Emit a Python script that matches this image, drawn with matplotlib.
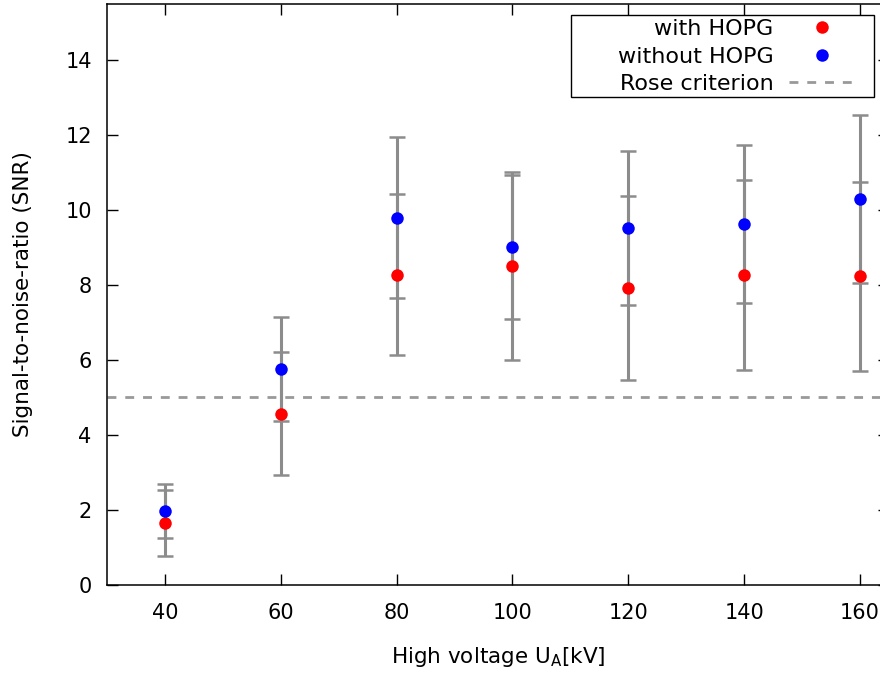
import matplotlib
matplotlib.use('Agg')
import matplotlib.pyplot as plt
from matplotlib.patches import Rectangle

voltage = [40, 60, 80, 100, 120, 140, 160]

snr_with = [1.65, 4.56, 8.27, 8.51, 7.91, 8.27, 8.23]
err_with = [0.88, 1.64, 2.14, 2.50, 2.45, 2.53, 2.52]

snr_without = [1.97, 5.76, 9.79, 9.01, 9.52, 9.63, 10.29]
err_without = [0.72, 1.38, 2.14, 1.92, 2.05, 2.10, 2.23]

rose = 5

plt.rcParams['font.family'] = ['DejaVu Sans']

W, H = 880, 673
fig = plt.figure(figsize=(W / 100, H / 100), dpi=100)
ax = fig.add_axes([107 / W, 88 / H, 782 / W, 581.5 / H])

bar_style = dict(fmt='none', ecolor='#8c8c8c', elinewidth=2.2, capsize=5.8, capthick=1.8, zorder=2)
ax.errorbar(voltage, snr_with, yerr=err_with, **bar_style)
ax.errorbar(voltage, snr_without, yerr=err_without, **bar_style)

ax.plot(voltage, snr_with, 'o', color='red', ms=9, mec='none', label='with HOPG', zorder=3)
ax.plot(voltage, snr_without, 'o', color='blue', ms=9, mec='none', label='without HOPG', zorder=3)
ax.axhline(rose, color='#999999', lw=2, ls=(0, (3.2, 3.2)), label='Rose criterion', zorder=1)

ax.set_xlim(30, 165)
ax.set_ylim(0, 15.5)
ax.set_xticks(voltage)
ax.set_yticks(range(0, 15, 2))
ax.tick_params(direction='in', length=8, width=1, labelsize=15, top=True, right=True)
ax.tick_params(axis='x', pad=13)
ax.tick_params(axis='y', pad=11)
for s in ax.spines.values():
    s.set_linewidth(1.1)

ax.set_xlabel('High voltage U$_\\mathrm{A}$[kV]', fontsize=15.5, labelpad=16)
ax.set_ylabel('Signal-to-noise-ratio (SNR)', fontsize=15.5, labelpad=23)

# gnuplot style key box: text right aligned, sample on the right
ax.add_patch(Rectangle((571 / W, 1 - 97 / H), 303 / W, 82 / H, transform=fig.transFigure,
                       facecolor='white', edgecolor='black', lw=1.0, zorder=4, clip_on=False))
leg = ax.legend(loc='upper right', bbox_to_anchor=(858 / W, 1 - 17 / H),
                bbox_transform=fig.transFigure, markerfirst=False, fontsize=16,
                frameon=False, handlelength=3.0, handletextpad=0.7,
                borderpad=0.1, labelspacing=0.33, borderaxespad=0, numpoints=1)
leg.set_zorder(5)

fig.savefig('out.png', dpi=100)
